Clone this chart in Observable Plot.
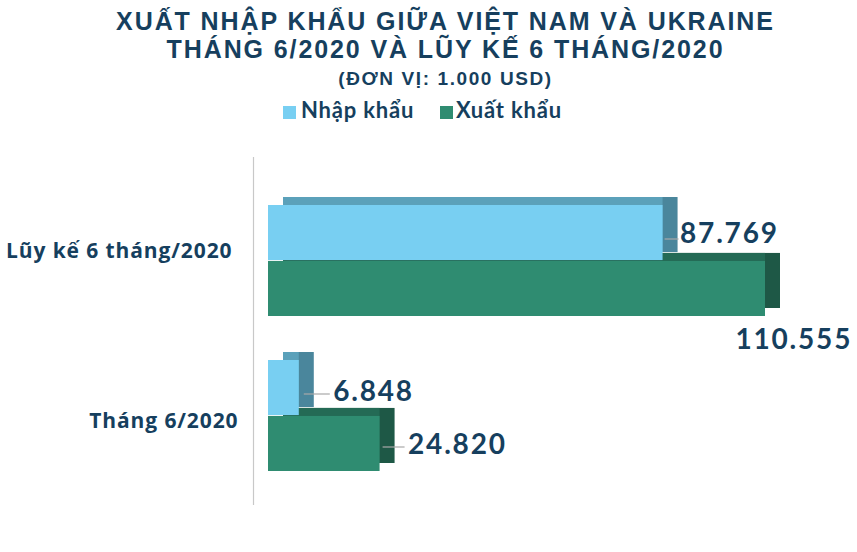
<!DOCTYPE html>
<html><head><meta charset="utf-8">
<script src="https://cdn.jsdelivr.net/npm/d3@7"></script>
<script src="https://cdn.jsdelivr.net/npm/@observablehq/plot@0.6"></script>
<style>
body{margin:0;background:#fff;}
#wrap{position:relative;width:857px;height:552px;overflow:hidden;color:#163f5e;}
.t{position:absolute;left:17px;width:857px;text-align:center;font-weight:bold;font-family:"Liberation Sans",Arial,sans-serif;white-space:nowrap;}
#t1{top:7px;font-size:25px;line-height:28px;letter-spacing:1.9px;}
#t2{top:35px;font-size:25px;line-height:28px;letter-spacing:1.9px;}
#t3{top:68px;font-size:19px;line-height:22px;letter-spacing:1.6px;}
.lg{position:absolute;top:97px;font-family:Lato,sans-serif;font-weight:bold;font-size:22px;line-height:26px;letter-spacing:0.8px;white-space:nowrap;}
.sw{position:absolute;top:106px;width:13px;height:13px;}
#chart{position:absolute;left:0;top:140px;}
#chart g[font-size="28"] text{letter-spacing:1.8px;}
#chart g[font-size="21"] text{letter-spacing:0.9px;}
</style></head>
<body>
<div id="wrap">
  <div class="t" id="t1">XUẤT NHẬP KHẨU GIỮA VIỆT NAM VÀ UKRAINE</div>
  <div class="t" id="t2">THÁNG 6/2020 VÀ LŨY KẾ 6 THÁNG/2020</div>
  <div class="t" id="t3">(ĐƠN VỊ: 1.000 USD)</div>
  <div id="legend"></div>
  <div id="chart"></div>
</div>
<script>
// ---- data ----
const categories = ["Lũy kế 6 tháng/2020", "Tháng 6/2020"];
const series = ["Nhập khẩu", "Xuất khẩu"];
const importValues = [87769, 6848];
const exportValues = [110555, 24820];

// ---- styles ----
const front = {"Nhập khẩu": "#78cff2", "Xuất khẩu": "#2f8c71"};
const topC  = {"Nhập khẩu": "#5ba1ba", "Xuất khẩu": "#246a55"};
const sideC = {"Nhập khẩu": "#4a869c", "Xuất khẩu": "#1e5846"};
const navy = "#163f5e";

const rows = categories.flatMap((c, i) => [
  {category: c, series: series[0], value: importValues[i]},
  {category: c, series: series[1], value: exportValues[i]}
]);

const fmt = d3.formatLocale({thousands: ".", decimal: ",", grouping: [3], currency: ["", ""]}).format(",");

// legend
const legend = document.getElementById("legend");
const legPos = [[283, 301], [440, 456]];
series.forEach((s, i) => {
  const sw = document.createElement("div");
  sw.className = "sw"; sw.style.left = legPos[i][0] + "px"; sw.style.background = front[s];
  const tx = document.createElement("div");
  tx.className = "lg"; tx.style.left = legPos[i][1] + "px"; tx.textContent = s;
  legend.append(sw, tx);
});

// layout
const W = 857, H = 412, mt = 33, mb = 49, pi = 0.282, po = 0.2;
const step = (H - mt - mb) / (categories.length - pi + 2 * po);
const bw = step * (1 - pi), half = bw / 2;
const D = 15, E = 8;

const imp = rows.filter(d => d.series === series[0]);
const exp = rows.filter(d => d.series === series[1]);
const insetFor = s => s === series[0] ? {insetBottom: half} : {insetTop: half};

const marks = [Plot.ruleX([0], {dx: -15, stroke: "#c8c8c8", strokeWidth: 1.2, insetTop: -16, insetBottom: -2})];
for (const [data, s] of [[exp, series[1]], [imp, series[0]]]) {
  marks.push(Plot.barX(data, {x: "value", y: "category", fill: sideC[s], dx: D, dy: -E, ...insetFor(s)}));
  marks.push(Plot.barX(data, {x: "value", y: "category", fill: topC[s], dx: D, dy: -E, insetRight: D, ...insetFor(s)}));
}
for (const [data, s] of [[exp, series[1]], [imp, series[0]]]) {
  marks.push(Plot.barX(data, {x: "value", y: "category", fill: front[s], ...insetFor(s)}));
}
// leader lines
const leader = (data, from, to, dy) => Plot.ruleY(data, {y: "category", x1: "value", x2: "value", insetLeft: from, insetRight: -to, dy, stroke: "#a8a8a8", strokeWidth: 1.2});
marks.push(leader([imp[0]], 2, 16, -22));
marks.push(leader([imp[1]], 5, 31, -22));
marks.push(leader([exp[1]], 3, 25, 31));

const labelStyle = {text: d => fmt(d.value), textAnchor: "start", fontSize: 28, fontWeight: "bold", fill: navy, fontFamily: "Lato, sans-serif"};
const lab = (data, dx, dy) => Plot.text(data, {x: "value", y: "category", dx, dy, ...labelStyle});
marks.push(lab([imp[0]], 17, -27));
marks.push(lab([exp[0]], -30, 79));
marks.push(lab([imp[1]], 34, -24));
marks.push(lab([exp[1]], 28, 29));
const catStyle = {x: 0, y: d => d, text: d => d, textAnchor: "end", fontSize: 21, fontWeight: "bold", fill: navy, fontFamily: "'Open Sans', sans-serif"};
marks.push(Plot.text([categories[0]], {...catStyle, dx: -36, dy: -9.5}));
marks.push(Plot.text([categories[1]], {...catStyle, dx: -30, dy: 5}));

const chart = Plot.plot({
  width: W, height: H,
  marginLeft: 268, marginRight: 92, marginTop: mt, marginBottom: mb,
  style: {fontFamily: "Lato, sans-serif", color: navy, background: "transparent", overflow: "visible"},
  x: {domain: [0, d3.max(exportValues)], axis: null},
  y: {domain: categories, paddingInner: pi, paddingOuter: po, label: null, axis: null},
  marks
});
document.getElementById("chart").append(chart);
</script>
</body></html>
